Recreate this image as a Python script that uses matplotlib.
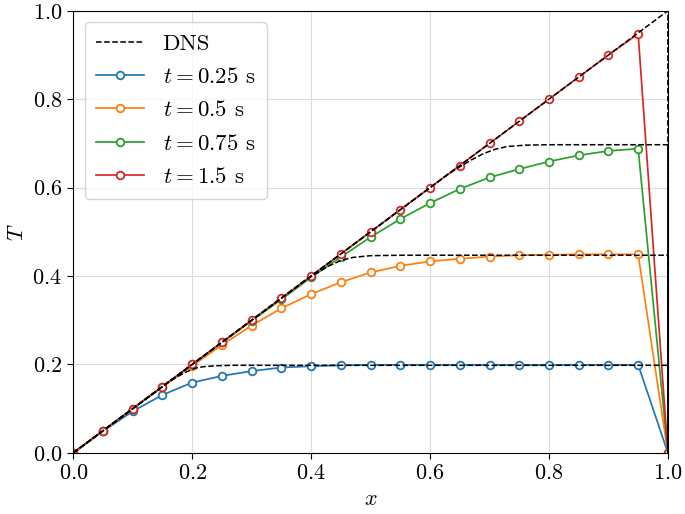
import numpy as np
import matplotlib
matplotlib.use("Agg")
import matplotlib.pyplot as plt

plt.rcParams['font.family'] = 'cmr10'
plt.rcParams['mathtext.fontset'] = 'cm'
plt.rcParams['axes.formatter.use_mathtext'] = True

# model points, x = 0, 0.05, ..., 1.0
x_pts = [0.0, 0.05, 0.1, 0.15, 0.2, 0.25, 0.3, 0.35, 0.4, 0.45, 0.5,
         0.55, 0.6, 0.65, 0.7, 0.75, 0.8, 0.85, 0.9, 0.95, 1.0]
T_025 = [0.0, 0.049, 0.094, 0.131, 0.159, 0.174, 0.185, 0.193, 0.196, 0.198, 0.199,
         0.199, 0.199, 0.199, 0.199, 0.199, 0.199, 0.199, 0.199, 0.199, 0.0]
T_05 = [0.0, 0.05, 0.1, 0.149, 0.197, 0.244, 0.288, 0.327, 0.359, 0.386, 0.408,
        0.423, 0.433, 0.439, 0.444, 0.447, 0.448, 0.449, 0.449, 0.449, 0.0]
T_075 = [0.0, 0.05, 0.1, 0.15, 0.2, 0.25, 0.299, 0.347, 0.397, 0.443, 0.488,
         0.529, 0.565, 0.597, 0.623, 0.642, 0.659, 0.673, 0.683, 0.688, 0.0]
T_15 = [0.0, 0.05, 0.1, 0.15, 0.2, 0.25, 0.3, 0.35, 0.4, 0.45, 0.5,
        0.55, 0.6, 0.65, 0.7, 0.75, 0.8, 0.85, 0.9, 0.948, 0.0]

# DNS reference curves
dns_x_025 = [0.0, 0.16, 0.18, 0.19, 0.2, 0.21, 0.22, 0.24, 0.27, 0.3, 1.0, 1.0]
dns_T_025 = [0.0, 0.16, 0.176, 0.183, 0.189, 0.193, 0.195, 0.197, 0.198, 0.198, 0.198, 0.0]
dns_x_05 = [0.0, 0.39, 0.41, 0.43, 0.45, 0.47, 0.5, 0.55, 1.0, 1.0]
dns_T_05 = [0.0, 0.39, 0.407, 0.423, 0.435, 0.442, 0.446, 0.447, 0.447, 0.0]
dns_x_075 = [0.0, 0.63, 0.65, 0.67, 0.69, 0.71, 0.73, 0.76, 0.8, 1.0, 1.0]
dns_T_075 = [0.0, 0.63, 0.647, 0.663, 0.677, 0.687, 0.693, 0.696, 0.697, 0.697, 0.0]
dns_x_15 = [0.0, 1.0, 1.0]
dns_T_15 = [0.0, 1.0, 0.0]

labels = [r'$t = 0.25$ s', r'$t = 0.5$ s', r'$t = 0.75$ s', r'$t = 1.5$ s']
colors = ['#1f77b4', '#ff7f0e', '#2ca02c', '#d62728']

fig = plt.figure(figsize=(6.85, 5.14), dpi=100)
ax = fig.add_axes([0.107, 0.119, 0.868, 0.860])

dns = [(dns_x_025, dns_T_025), (dns_x_05, dns_T_05),
       (dns_x_075, dns_T_075), (dns_x_15, dns_T_15)]
for i, (dx, dT) in enumerate(dns):
    ax.plot(dx, dT, 'k--', lw=1.1, label='DNS' if i == 0 else None, zorder=3)

for T, lab, c in zip([T_025, T_05, T_075, T_15], labels, colors):
    ax.plot(x_pts, T, '-o', color=c, lw=1.25, ms=5.5, mfc='white', mew=1.3,
            label=lab, zorder=2)

ax.set_xlim(0, 1)
ax.set_ylim(0, 1)
ax.set_xticks(np.arange(0, 1.01, 0.2))
ax.set_yticks(np.arange(0, 1.01, 0.2))
ax.grid(True, color='#dcdcdc', lw=0.8)
ax.set_axisbelow(True)
ax.tick_params(labelsize=16, direction='out', length=4.5)
ax.set_xlabel(r'$x$', fontsize=16)
ax.set_ylabel(r'$T$', fontsize=16)

ax.legend(loc='upper left', fontsize=16.5, handlelength=2.1, borderpad=0.5,
          labelspacing=0.58, bbox_to_anchor=(0.0, 1.0))

fig.savefig('out.png', dpi=100)
